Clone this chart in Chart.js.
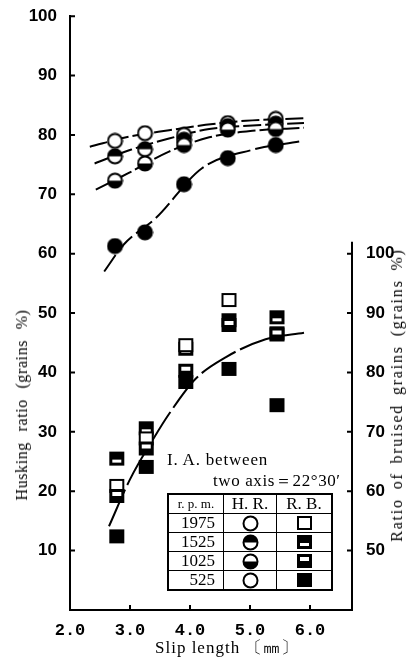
<!DOCTYPE html>
<html>
<head>
<meta charset="utf-8">
<script src="https://cdn.jsdelivr.net/npm/chart.js@4.4.1/dist/chart.umd.min.js"></script>
<style>
  html, body { margin: 0; padding: 0; background: #fff; }
  #wrap { position: relative; width: 411px; height: 658px; }
  canvas#c { display: block; }
  .txt { position: absolute; font-family: "Liberation Serif", serif; color: #000; white-space: pre; }
  .rot { transform: translate(-50%, -50%) rotate(-90deg); }
  #legend { position: absolute; left: 167px; top: 493px; border-collapse: collapse; border: 2px solid #000;
            font-family: "Liberation Serif", serif; background: #fff; }
  #legend td { border: 1.5px solid #000; padding: 0; height: 18px; text-align: center; line-height: 16px; font-size: 17px; }
  #legend td.n { text-align: right; padding-right: 8px; }
  #legend td canvas { display: block; margin: 0 auto; }
</style>
</head>
<body>
<div id="wrap">
  <canvas id="c" width="411" height="658"></canvas>
  <div class="txt rot" style="left:22px;top:405px;font-size:16px;letter-spacing:0.6px;word-spacing:6px;">Husking ratio (grains %)</div>
  <div class="txt rot" style="left:397px;top:395px;font-size:16px;letter-spacing:1.8px;word-spacing:3px;">Ratio of bruised grains (grains %)</div>
  <div class="txt" style="left:155px;top:636px;font-size:17px;letter-spacing:1px;">Slip length 〔㎜〕</div>
  <div class="txt" style="left:167px;top:450px;font-size:17px;letter-spacing:0.8px;">I. A. between</div>
  <div class="txt" style="left:213px;top:469px;font-size:17px;letter-spacing:0.6px;">two axis＝22°30′</div>
  <table id="legend">
    <tr><td style="width:54px;font-size:13px;">r. p. m.</td><td style="width:52px;">H. R.</td><td style="width:54px;">R. B.</td></tr>
    <tr><td class="n">1975</td><td id="h0"></td><td id="b0"></td></tr>
    <tr><td class="n">1525</td><td id="h1"></td><td id="b1"></td></tr>
    <tr><td class="n">1025</td><td id="h2"></td><td id="b2"></td></tr>
    <tr><td class="n">525</td><td id="h3"></td><td id="b3"></td></tr>
  </table>
</div>
<script>
// tick values
const xTicks = [2.0, 3.0, 4.0, 5.0, 6.0];
const yTicks = [10, 20, 30, 40, 50, 60, 70, 80, 90, 100];
const yRTicks = [50, 60, 70, 80, 90, 100];

// husking ratio (left axis), by r.p.m.
const slipHR = [2.75, 3.25, 3.9, 4.63, 5.43];
const hr1975 = [79.0, 80.3, 80.0, 82.0, 82.7];
const hr1525 = [76.4, 77.6, 79.2, 81.5, 81.9];
const hr1025 = [72.3, 75.2, 78.3, 80.9, 81.0];
const hr525  = [61.3, 63.6, 71.7, 76.1, 78.3];

// ratio of bruised grains (right axis)
const slipRB = [2.78, 3.27, 3.93, 4.65, 5.45];
const rb1975 = [60.9, 68.9, 84.6, 92.2, 86.6];
const rb1525 = [65.5, 70.6, 84.0, 88.8, 89.3];
const rb1025 = [59.2, 67.2, 80.3, 88.0, 86.4];
const rb525  = [52.4, 64.1, 78.4, 80.6, 74.5];

// fitted curves as drawn
const cX1975 = [2.33, 2.98, 3.65, 4.26, 4.93, 5.9];
const cY1975 = [78.0, 79.7, 80.8, 81.7, 82.4, 82.8];
const cX1525 = [2.41, 3.01, 3.65, 4.32, 5.04, 5.9];
const cY1525 = [75.2, 77.5, 79.4, 81.0, 81.6, 82.0];
const cX1025 = [2.43, 2.98, 3.65, 4.32, 5.04, 5.9];
const cY1025 = [70.8, 73.6, 77.2, 79.6, 80.7, 81.2];
const cX525  = [2.57, 2.9, 3.43, 4.2, 5.04, 5.82];
const cY525  = [57.0, 61.6, 66.0, 74.4, 77.5, 78.9];
const cXRB   = [2.65, 3.0, 3.4, 3.65, 4.09, 4.6, 5.26, 5.9];
const cYRB   = [54.1, 62.0, 69.0, 73.0, 78.9, 82.6, 85.6, 86.7];

// marker pictures
function circleMark(kind) {
  const c = document.createElement('canvas');
  c.width = 17; c.height = 17;
  const g = c.getContext('2d');
  g.beginPath(); g.arc(8.5, 8.5, 7, 0, Math.PI * 2);
  g.fillStyle = '#fff'; g.fill();
  g.save(); g.clip(); g.fillStyle = '#000';
  if (kind === 'full') g.fillRect(0, 0, 17, 17);
  if (kind === 'top') g.fillRect(0, 0, 17, 8.5);
  if (kind === 'bottom') g.fillRect(0, 8.5, 17, 9);
  g.restore();
  g.lineWidth = 2; g.strokeStyle = '#000'; g.stroke();
  return c;
}
function squareMark(kind) {
  const c = document.createElement('canvas');
  c.width = 17; c.height = 16;
  const g = c.getContext('2d');
  g.fillStyle = kind === 'open' ? '#fff' : '#000';
  g.fillRect(2, 2, 13, 12);
  g.fillStyle = '#fff';
  if (kind === 'top') g.fillRect(4, 9, 9, 3);
  if (kind === 'bottom') g.fillRect(4, 4, 9, 4);
  g.lineWidth = 2; g.strokeStyle = '#000';
  g.strokeRect(2, 2, 13, 12);
  return c;
}

const pts = (xs, ys) => xs.map((x, i) => ({ x, y: ys[i] }));

function markers(xs, ys, img, axis) {
  return { data: pts(xs, ys), pointStyle: img, pointRadius: 7, showLine: false, yAxisID: axis, order: 0 };
}
function curve(xs, ys, axis, dash) {
  return { data: pts(xs, ys), showLine: true, pointRadius: 0, borderColor: '#000', borderWidth: 2,
           borderDash: dash, cubicInterpolationMode: 'monotone', yAxisID: axis, order: 2 };
}

const datasets = [
  curve(cX1975, cY1975, 'y', [18, 4]),
  curve(cX1525, cY1525, 'y', [18, 4]),
  curve(cX1025, cY1025, 'y', [18, 4]),
  curve(cX525, cY525, 'y', [20, 5]),
  curve(cXRB, cYRB, 'yR', [40, 5]),
  markers(slipHR, hr525, circleMark('full'), 'y'),
  markers(slipHR, hr1025, circleMark('bottom'), 'y'),
  markers(slipHR, hr1525, circleMark('top'), 'y'),
  markers(slipHR, hr1975, circleMark('open'), 'y'),
  markers(slipRB, rb525, squareMark('full'), 'yR'),
  markers(slipRB, rb1025, squareMark('bottom'), 'yR'),
  markers(slipRB, rb1975, squareMark('open'), 'yR'),
  markers(slipRB, rb1525, squareMark('top'), 'yR')
];

// inward ticks + short right axis line
const axisMarks = {
  id: 'axisMarks',
  afterDraw(chart) {
    const g = chart.ctx, a = chart.chartArea;
    const sx = chart.scales.x, sy = chart.scales.y, sr = chart.scales.yR;
    g.save();
    g.strokeStyle = '#000'; g.lineWidth = 2;
    g.beginPath();
    g.moveTo(a.right, sr.getPixelForValue(102)); g.lineTo(a.right, a.bottom);
    xTicks.forEach(v => { const p = sx.getPixelForValue(v); g.moveTo(p, a.bottom); g.lineTo(p, a.bottom - 5); });
    yTicks.forEach(v => { const p = sy.getPixelForValue(v); g.moveTo(a.left, p); g.lineTo(a.left + 5, p); });
    yRTicks.forEach(v => { const p = sr.getPixelForValue(v); g.moveTo(a.right, p); g.lineTo(a.right - 5, p); });
    g.stroke();
    g.restore();
  }
};

const numFont = { family: '"Liberation Sans Narrow", "Liberation Sans", sans-serif', size: 17, weight: 'bold' };

new Chart(document.getElementById('c'), {
  type: 'scatter',
  data: { datasets },
  options: {
    responsive: false,
    animation: false,
    layout: { padding: { top: 14, left: 0, right: 0, bottom: 0 } },
    plugins: { legend: { display: false }, tooltip: { enabled: false } },
    scales: {
      x: {
        type: 'linear', min: 2, max: 6.7,
        afterBuildTicks: s => { s.ticks = xTicks.map(v => ({ value: v })); },
        afterFit: s => { s.height = 48; },
        grid: { display: false },
        border: { display: true, width: 2, color: '#000' },
        ticks: { color: '#000', padding: 3, maxRotation: 0, autoSkip: false,
                 font: { family: '"Liberation Mono", monospace', size: 17, weight: 'bold' },
                 callback: v => v.toFixed(1) }
      },
      y: {
        position: 'left', min: 0, max: 100,
        afterBuildTicks: s => { s.ticks = yTicks.map(v => ({ value: v })); },
        afterFit: s => { s.width = 70; },
        grid: { display: false },
        border: { display: true, width: 2, color: '#000' },
        ticks: { color: '#000', padding: 5, font: numFont, autoSkip: false }
      },
      yR: {
        position: 'right', min: 40, max: 140,
        afterBuildTicks: s => { s.ticks = yRTicks.map(v => ({ value: v })); },
        afterFit: s => { s.width = 59; },
        grid: { display: false },
        border: { display: false },
        ticks: { color: '#000', padding: 6, font: numFont, autoSkip: false }
      }
    }
  },
  plugins: [axisMarks]
});

// legend icons
['open', 'top', 'bottom', 'open'].forEach((k, i) => document.getElementById('h' + i).appendChild(circleMark(k)));
['open', 'top', 'bottom', 'full'].forEach((k, i) => document.getElementById('b' + i).appendChild(squareMark(k)));
</script>
</body>
</html>
